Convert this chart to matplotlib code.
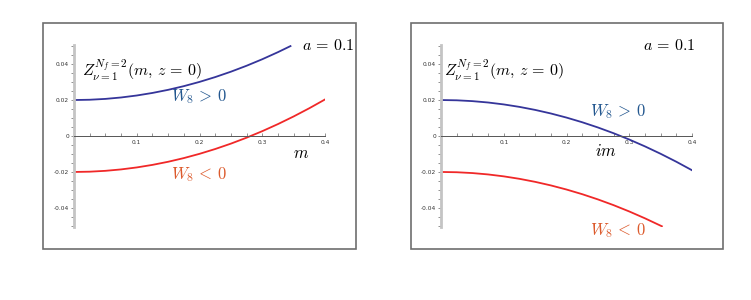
import numpy as np
import matplotlib
matplotlib.use('Agg')
import matplotlib.pyplot as plt
from matplotlib.patches import Rectangle
from matplotlib.ticker import MultipleLocator, FixedLocator

plt.rcParams['mathtext.fontset'] = 'cm'

# values
m_left_pos = [0, 0.025, 0.05, 0.075, 0.1, 0.125, 0.15, 0.175, 0.2, 0.225, 0.25, 0.275, 0.3, 0.325, 0.345]
z_left_pos = [0.0200, 0.02016, 0.02063, 0.02142, 0.02252, 0.02394, 0.02567, 0.02772, 0.03008,
              0.03276, 0.03575, 0.03906, 0.04268, 0.04662, 0.0500]
m_left_neg = [0, 0.025, 0.05, 0.075, 0.1, 0.125, 0.15, 0.175, 0.2, 0.225, 0.25, 0.275, 0.3, 0.325,
              0.35, 0.375, 0.4]
z_left_neg = [-0.0200, -0.01984, -0.01937, -0.01858, -0.01748, -0.01606, -0.01433, -0.01228, -0.00992,
              -0.00724, -0.00425, -0.00094, 0.00268, 0.00662, 0.01087, 0.01544, 0.02032]

m_right_pos = [0, 0.025, 0.05, 0.075, 0.1, 0.125, 0.15, 0.175, 0.2, 0.225, 0.25, 0.275, 0.3, 0.325,
               0.35, 0.375, 0.4]
z_right_pos = [0.0200, 0.01985, 0.01939, 0.01863, 0.01756, 0.01619, 0.01451, 0.01253, 0.01024,
               0.00765, 0.00475, 0.00155, -0.00196, -0.00577, -0.00989, -0.01431, -0.01904]
m_right_neg = [0, 0.025, 0.05, 0.075, 0.1, 0.125, 0.15, 0.175, 0.2, 0.225, 0.25, 0.275, 0.3, 0.325, 0.352]
z_right_neg = [-0.0200, -0.02015, -0.02061, -0.02137, -0.02244, -0.02381, -0.02549, -0.02747, -0.02976,
               -0.03235, -0.03525, -0.03845, -0.04196, -0.04577, -0.05020]

x_ticks = [0.1, 0.2, 0.3, 0.4]
x_ticklabels = ['0.1', '0.2', '0.3', '0.4']
y_ticks = [-0.04, -0.02, 0, 0.02, 0.04]
y_ticklabels = ['-0.04', '-0.02', '0', '0.02', '0.04']

W, H = 751, 300
fig = plt.figure(figsize=(W / 100, H / 100), dpi=100)


def px(x0, y0, x1, y1):
    # pixel box -> figure fraction rect
    return [x0 / W, 1 - y1 / H, (x1 - x0) / W, (y1 - y0) / H]


def frame(x0, y0, x1, y1):
    fig.patches.append(Rectangle((x0 / W, 1 - y1 / H), (x1 - x0) / W, (y1 - y0) / H,
                                 transform=fig.transFigure, fill=False,
                                 edgecolor='#6e6e6e', linewidth=1.2))


def panel(x0, ax_label, label_pos):
    ax = fig.add_axes(px(x0, 45, x0 + 251, 227))
    ax.set_xlim(0, 0.4)
    ax.set_ylim(-0.0506, 0.0506)
    ax.patch.set_visible(False)
    for s in ['top', 'right']:
        ax.spines[s].set_visible(False)
    ax.spines['left'].set_color('#c4c4c4')
    ax.spines['left'].set_linewidth(2.0)
    ax.spines['bottom'].set_position(('data', 0))
    ax.spines['bottom'].set_color('#555555')
    ax.spines['bottom'].set_linewidth(0.7)
    ax.xaxis.set_major_locator(FixedLocator(x_ticks))
    ax.set_xticklabels(x_ticklabels)
    ax.xaxis.set_minor_locator(MultipleLocator(0.025))
    ax.yaxis.set_major_locator(FixedLocator(y_ticks))
    ax.set_yticklabels(y_ticklabels)
    ax.yaxis.set_minor_locator(MultipleLocator(0.005))
    ax.tick_params(which='both', length=2.0, width=0.5, color='#666666',
                   labelsize=4.2, labelcolor='#333333', pad=2)
    ax.tick_params(axis='x', which='both', direction='in', pad=3)
    ax.tick_params(axis='y', which='both', direction='out', pad=1.5)
    ax.text(label_pos[0], label_pos[1], ax_label, fontsize=12, ha='center', va='top')
    return ax


frame(43, 23, 356, 249)
frame(411, 23, 723, 249)

zlabel = r'$Z^{N_f=2}_{\nu=1}(m,\,z\,=\,0)$'
a_label = r'$a\,=\,0.1$'
blue, red = '#35359a', '#f02828'
c_pos, c_neg = '#23578f', '#dc5a2c'

ax1 = panel(74, r'$m$', (0.362, -0.0045))
ax1.plot(m_left_pos, z_left_pos, color=blue, lw=1.3)
ax1.plot(m_left_neg, z_left_neg, color=red, lw=1.3)
ax1.text(0.012, 0.0367, zlabel, fontsize=11.5, va='center', ha='left')
ax1.text(0.405, 0.0505, a_label, fontsize=11.5, va='center', ha='center', clip_on=False)
ax1.text(0.199, 0.0217, r'$W_8\,>\,0$', fontsize=12, color=c_pos, va='center', ha='center')
ax1.text(0.199, -0.0217, r'$W_8\,<\,0$', fontsize=12, color=c_neg, va='center', ha='center')

ax2 = panel(441, r'$im$', (0.263, -0.0035))
ax2.plot(m_right_pos, z_right_pos, color=blue, lw=1.3)
ax2.plot(m_right_neg, z_right_neg, color=red, lw=1.3)
ax2.text(0.005, 0.0367, zlabel, fontsize=11.5, va='center', ha='left')
ax2.text(0.363, 0.0505, a_label, fontsize=11.5, va='center', ha='center', clip_on=False)
ax2.text(0.282, 0.0133, r'$W_8\,>\,0$', fontsize=12, color=c_pos, va='center', ha='center')
ax2.text(0.282, -0.0525, r'$W_8\,<\,0$', fontsize=12, color=c_neg, va='center', ha='center', clip_on=False)

fig.savefig('out.png', dpi=100)
